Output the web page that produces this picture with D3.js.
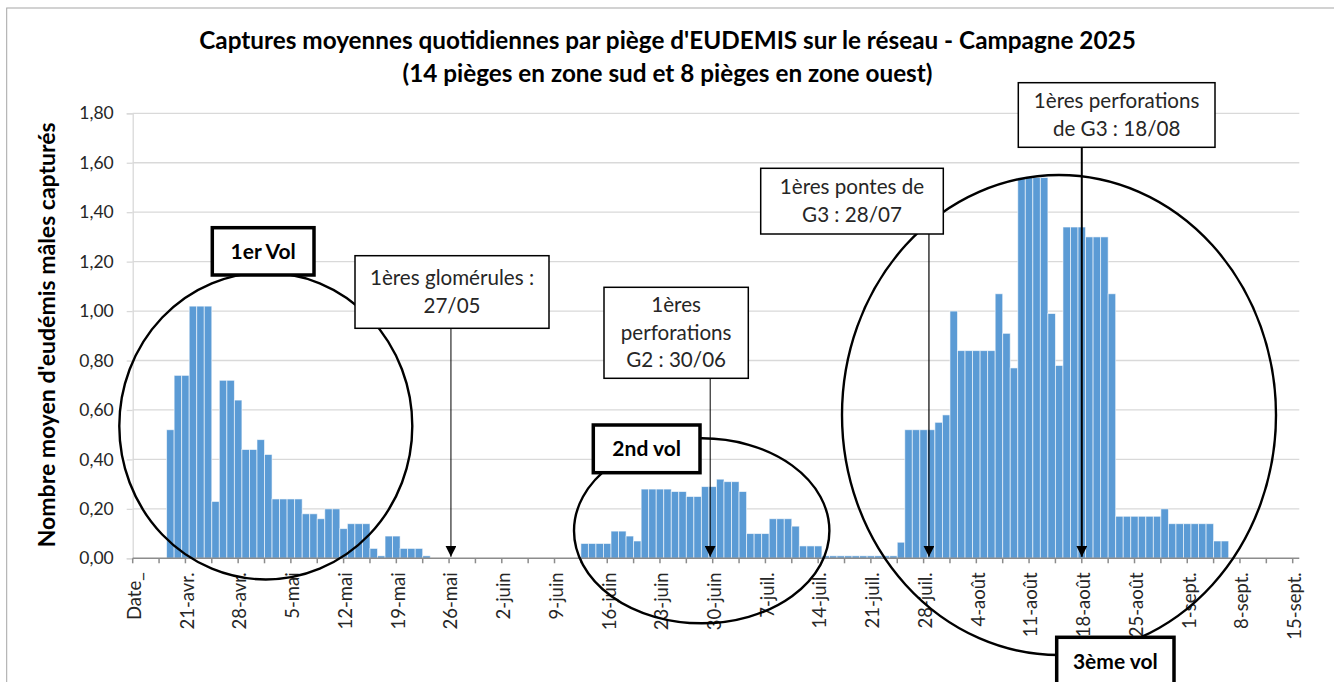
<!DOCTYPE html>
<html lang="fr">
<head>
<meta charset="utf-8">
<script src="https://cdn.jsdelivr.net/npm/d3@7"></script>
<style>
  html, body { margin: 0; padding: 0; background: #fff; }
  svg { display: block; font-family: Lato, "Noto Sans", sans-serif; }
</style>
</head>
<body>
<div id="chart"></div>
<script>
// --------------- Data ---------------
// Captures moyennes par piège, une valeur par jour à partir du 19 avril 2025
const FIRST_DAY = "2025-04-19";
const aprilValues = [0.52, 0.74, 0.74, 1.02, 1.02, 1.02, 0.23, 0.72, 0.72, 0.64, 0.44, 0.44];
const mayValues = [0.48, 0.42, 0.24, 0.24, 0.24, 0.24, 0.18, 0.18, 0.16, 0.20,
  0.20, 0.12, 0.14, 0.14, 0.14, 0.04, 0.01, 0.09, 0.09, 0.04,
  0.04, 0.04, 0.01, 0, 0, 0, 0, 0, 0, 0, 0];
const juneValues = [0, 0, 0, 0, 0, 0, 0, 0, 0, 0, 0, 0, 0.06, 0.06, 0.06, 0.06,
  0.11, 0.11, 0.09, 0.07, 0.28, 0.28, 0.28, 0.28, 0.27, 0.27, 0.25, 0.25, 0.29, 0.29];
const julyValues = [0.32, 0.31, 0.31, 0.27, 0.10, 0.10, 0.10, 0.16, 0.16, 0.16,
  0.13, 0.05, 0.05, 0.05, 0.01, 0.01, 0.01, 0.01, 0.01, 0.01,
  0.01, 0.01, 0.01, 0.01, 0.065, 0.52, 0.52, 0.52, 0.52, 0.55, 0.58];
const augustValues = [1.00, 0.84, 0.84, 0.84, 0.84, 0.84, 1.07, 0.91, 0.77, 1.54,
  1.54, 1.54, 1.54, 0.99, 0.78, 1.34, 1.34, 1.34, 1.30, 1.30,
  1.30, 1.07, 0.17, 0.17, 0.17, 0.17, 0.17, 0.17, 0.20, 0.14, 0.14];
const septemberValues = [0.14, 0.14, 0.14, 0.14, 0.07, 0.07];

// axe des dates : une étiquette par semaine à partir du 14 avril
const AXIS_START = "2025-04-14";
const AXIS_END = "2025-09-15";
const tickLabels = ["Date_", "21-avr.", "28-avr.", "5-mai", "12-mai", "19-mai", "26-mai",
  "2-juin", "9-juin", "16-juin", "23-juin", "30-juin", "7-juil.", "14-juil.", "21-juil.",
  "28-juil.", "4-août", "11-août", "18-août", "25-août", "1-sept.", "8-sept.", "15-sept."];
const yTicks = [0, 0.2, 0.4, 0.6, 0.8, 1.0, 1.2, 1.4, 1.6, 1.8];

const titleLines = [
  "Captures moyennes quotidiennes par piège d'EUDEMIS sur le réseau - Campagne 2025",
  "(14 pièges en zone sud et 8 pièges en zone ouest)"
];
const yTitle = "Nombre moyen d'eudémis mâles capturés";

const flightLabels = ["1er Vol", "2nd vol", "3ème vol"];
const noteTexts = [
  ["1ères glomérules :", "27/05"],
  ["1ères", "perforations", "G2 : 30/06"],
  ["1ères pontes de", "G3 : 28/07"],
  ["1ères perforations", "de G3 : 18/08"]
];
// position des flèches sur l'axe des dates
const noteDates = ["2025-05-26T06:00Z", "2025-06-29T16:00Z", "2025-07-28T17:00Z", "2025-08-18T00:00Z"];

// --------------- Layout ---------------
const WIDTH = 1334;
const HEIGHT = 682;
const PLOT = { left: 132.7, right: 1292.7, axisEnd: 1299.3, top: 113.3, bottom: 558.3 };
const BAR_COLOR = "#5b9bd5";
const GRID_COLOR = "#d9d9d9";
const TEXT_COLOR = "#262626";

// cadres des repères de vol [x0, y0, x1, y1]
const flightBoxes = [[212.3, 227.7, 314, 275], [593.3, 425, 700, 472.7], [1056.7, 637.3, 1174, 685]];
// ellipses [cx, cy, rx, ry]
const flightEllipses = [[265.8, 426, 146.5, 153.5], [701.7, 530.8, 127.7, 92.5], [1059, 415, 217, 240]];
// cadres des annotations [x0, y0, x1, y1] et épaisseur de la flèche
const noteBoxes = [[355, 255.7, 549, 328.3], [604, 287.3, 748.3, 378.3], [760.7, 168.3, 943.3, 234], [1018.3, 82.7, 1215, 147.3]];
const noteStroke = [1, 1, 1.2, 2];

// --------------- Scales ---------------
const DAY = 24 * 3600 * 1000;
const parseDay = d3.utcParse("%Y-%m-%d");
const firstDay = parseDay(FIRST_DAY);
const dailyValues = [].concat(aprilValues, mayValues, juneValues, julyValues, augustValues, septemberValues);
const series = dailyValues.map((v, i) => ({ date: new Date(+firstDay + i * DAY), value: v }));

const x = d3.scaleUtc()
  .domain([parseDay(AXIS_START), parseDay(AXIS_END)])
  .range([PLOT.left, PLOT.right]);

const y = d3.scaleLinear()
  .domain([0, 1.8])
  .range([PLOT.bottom, PLOT.top]);

const frLocale = d3.formatLocale({ decimal: ",", thousands: " ", grouping: [3], currency: ["", " €"] });
const fmt = frLocale.format(".2f");

// --------------- SVG ---------------
const svg = d3.select("#chart")
  .append("svg")
  .attr("width", WIDTH)
  .attr("height", HEIGHT);

// cadre extérieur du graphique
svg.append("rect")
  .attr("x", 6.7).attr("y", 8)
  .attr("width", 1400).attr("height", 800)
  .attr("fill", "#fff")
  .attr("stroke", "#a6a6a6")
  .attr("stroke-width", 1);

// titre
svg.append("g")
  .selectAll("text")
  .data(titleLines)
  .enter()
  .append("text")
  .attr("x", 667.5)
  .attr("y", (d, i) => 49 + i * 33)
  .attr("text-anchor", "middle")
  .attr("font-weight", "bold")
  .attr("font-size", 24.3)
  .attr("fill", "#000")
  .text(d => d);

// quadrillage horizontal
svg.append("g")
  .selectAll("line")
  .data(yTicks.slice(1))
  .enter()
  .append("line")
  .attr("x1", PLOT.left).attr("x2", PLOT.axisEnd)
  .attr("y1", d => y(d)).attr("y2", d => y(d))
  .attr("stroke", GRID_COLOR)
  .attr("stroke-width", 1.3);

// axe Y
const yAxis = svg.append("g")
  .attr("transform", `translate(${PLOT.left},0)`)
  .call(d3.axisLeft(y).tickValues(yTicks).tickFormat(fmt).tickSize(6).tickPadding(13));
yAxis.select(".domain").attr("stroke", GRID_COLOR).attr("stroke-width", 1.3);
yAxis.selectAll(".tick line").attr("stroke", GRID_COLOR).attr("stroke-width", 1.3);
yAxis.selectAll("text")
  .attr("font-family", "Lato, sans-serif")
  .attr("font-size", 17.5)
  .attr("fill", TEXT_COLOR);

svg.append("text")
  .attr("transform", `translate(55,${(PLOT.top + PLOT.bottom) / 2 - 1}) rotate(-90)`)
  .attr("text-anchor", "middle")
  .attr("font-weight", "bold")
  .attr("font-size", 23)
  .attr("fill", "#000")
  .text(yTitle);

// barres
svg.append("g")
  .selectAll("rect")
  .data(series.filter(d => d.value > 0))
  .enter()
  .append("rect")
  .attr("x", d => x(new Date(+d.date - DAY / 2)))
  .attr("width", d => x(new Date(+d.date + DAY / 2)) - x(new Date(+d.date - DAY / 2)))
  .attr("y", d => y(d.value))
  .attr("height", d => y(0) - y(d.value))
  .attr("fill", BAR_COLOR)
  .attr("stroke", "#ffffff")
  .attr("stroke-opacity", 0.65)
  .attr("stroke-width", 0.9);

// axe X : graduation toutes les demi-semaines, étiquette chaque semaine
const axisStart = parseDay(AXIS_START);
const halfWeeks = d3.range(tickLabels.length * 2 - 1).map(i => new Date(+axisStart + i * 3.5 * DAY));
const xAxis = svg.append("g")
  .attr("transform", `translate(0,${PLOT.bottom})`);
xAxis.append("line")
  .attr("x1", PLOT.left).attr("x2", PLOT.axisEnd)
  .attr("stroke", "#8c8c8c")
  .attr("stroke-width", 1.5);
xAxis.selectAll(".tick")
  .data(halfWeeks)
  .enter()
  .append("line")
  .attr("x1", d => x(d)).attr("x2", d => x(d))
  .attr("y1", 0).attr("y2", 5)
  .attr("stroke", "#8c8c8c")
  .attr("stroke-width", 1.5);
xAxis.selectAll(".label")
  .data(tickLabels)
  .enter()
  .append("text")
  .attr("transform", (d, i) => `translate(${x(new Date(+axisStart + i * 7 * DAY))},14) rotate(-90)`)
  .attr("dy", "0.45em")
  .attr("text-anchor", "end")
  .attr("font-size", 18.5)
  .attr("fill", TEXT_COLOR)
  .text(d => d);

// ellipses des vols
svg.append("g")
  .selectAll("ellipse")
  .data(flightEllipses)
  .enter()
  .append("ellipse")
  .attr("cx", d => d[0]).attr("cy", d => d[1])
  .attr("rx", d => d[2]).attr("ry", d => d[3])
  .attr("fill", "none")
  .attr("stroke", "#000")
  .attr("stroke-width", 2.4);

// flèches des annotations
svg.append("defs")
  .append("marker")
  .attr("id", "arrow")
  .attr("viewBox", "0 0 10 10")
  .attr("refX", 10).attr("refY", 5)
  .attr("markerUnits", "userSpaceOnUse")
  .attr("markerWidth", 11).attr("markerHeight", 11)
  .attr("orient", "auto")
  .append("path")
  .attr("d", "M0,0L10,5L0,10Z")
  .attr("fill", "#000");

svg.append("g")
  .selectAll("line")
  .data(noteDates)
  .enter()
  .append("line")
  .attr("x1", d => x(new Date(d))).attr("x2", d => x(new Date(d)))
  .attr("y1", (d, i) => noteBoxes[i][3])
  .attr("y2", y(0) - 1.5)
  .attr("stroke", "#000")
  .attr("stroke-width", (d, i) => noteStroke[i])
  .attr("marker-end", "url(#arrow)");

// cadres d'annotation
const notes = svg.append("g")
  .selectAll("g")
  .data(noteTexts)
  .enter()
  .append("g");
notes.append("rect")
  .attr("x", (d, i) => noteBoxes[i][0])
  .attr("y", (d, i) => noteBoxes[i][1])
  .attr("width", (d, i) => noteBoxes[i][2] - noteBoxes[i][0])
  .attr("height", (d, i) => noteBoxes[i][3] - noteBoxes[i][1])
  .attr("fill", "#fff")
  .attr("stroke", "#000")
  .attr("stroke-width", 1.5);
notes.each(function(lines, i) {
  const b = noteBoxes[i];
  const cx = (b[0] + b[2]) / 2;
  const cy = (b[1] + b[3]) / 2;
  const lh = 27.5;
  d3.select(this).selectAll("text")
    .data(lines)
    .enter()
    .append("text")
    .attr("x", cx)
    .attr("y", (d, j) => cy + (j - (lines.length - 1) / 2) * lh + 7)
    .attr("text-anchor", "middle")
    .attr("font-size", 20.6)
    .attr("fill", TEXT_COLOR)
    .text(d => d);
});

// repères des vols
const flights = svg.append("g")
  .selectAll("g")
  .data(flightLabels)
  .enter()
  .append("g");
flights.append("rect")
  .attr("x", (d, i) => flightBoxes[i][0])
  .attr("y", (d, i) => flightBoxes[i][1])
  .attr("width", (d, i) => flightBoxes[i][2] - flightBoxes[i][0])
  .attr("height", (d, i) => flightBoxes[i][3] - flightBoxes[i][1])
  .attr("fill", "#fff")
  .attr("stroke", "#000")
  .attr("stroke-width", 3.5);
flights.append("text")
  .attr("x", (d, i) => (flightBoxes[i][0] + flightBoxes[i][2]) / 2)
  .attr("y", (d, i) => (flightBoxes[i][1] + flightBoxes[i][3]) / 2 + 7.5)
  .attr("text-anchor", "middle")
  .attr("font-weight", "bold")
  .attr("font-size", 21)
  .attr("fill", "#000")
  .text(d => d);
</script>
</body>
</html>
